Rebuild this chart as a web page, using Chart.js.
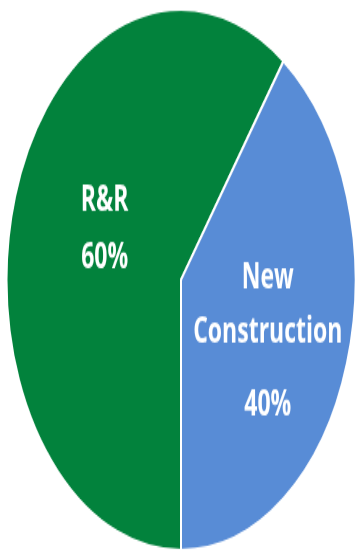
<!DOCTYPE html>
<html>
<head>
<meta charset="utf-8">
<script src="https://cdn.jsdelivr.net/npm/chart.js@4"></script>
<style>
  html { overflow: hidden; }
  body { margin: 0; padding: 0; background: #fff; width: 358px; height: 555px; }
  /* the reference pie is squashed into an ellipse, text too */
  #wrap { width: 358px; height: 358px; transform: scaleY(1.5503); transform-origin: 0 0; }
</style>
</head>
<body>
<div id="wrap"><canvas id="pieChart" width="358" height="358"></canvas></div>
<script>
// data
const categories = ["R&R", "New Construction"];
const shares = [60, 40];
const labelLines = [["R&R"], ["New", "Construction"]];

// label placement (fraction of radius along mid angle, baseline offsets per line)
const labelRadius = [0.46, 0.523];
const lineOffsets = [[-20, 17], [-22.5, 12.3, 59.4]];

/**
 * draws the white labels inside each slice
 */
const sliceLabels = {
    id: 'sliceLabels',
    afterDatasetsDraw(chart) {
        const ctx = chart.ctx;
        const meta = chart.getDatasetMeta(0);
        const total = shares.reduce((a, b) => a + b, 0);
        ctx.save();
        ctx.fillStyle = '#ffffff';
        ctx.font = 'bold 23px "Open Sans"';
        ctx.textAlign = 'center';
        ctx.textBaseline = 'alphabetic';
        meta.data.forEach(function (arc, i) {
            const p = arc.getProps(['x', 'y', 'startAngle', 'endAngle', 'outerRadius'], true);
            const mid = (p.startAngle + p.endAngle) / 2;
            const r = p.outerRadius * labelRadius[i];
            const ax = p.x + Math.cos(mid) * r;
            const ay = p.y + Math.sin(mid) * r;
            const lines = labelLines[i].concat([Math.round(shares[i] / total * 100) + '%']);
            lines.forEach(function (txt, j) {
                ctx.fillText(txt, ax, ay + lineOffsets[i][j]);
            });
        });
        ctx.restore();
    }
};

var ctxP = document.getElementById("pieChart").getContext('2d');
var myPieChart = new Chart(ctxP, {
    type: 'pie',
    data: {
        labels: categories,
        datasets: [{
            data: shares,
            backgroundColor: ["#02823c", "#588cd6"],
            borderColor: '#ffffff',
            borderWidth: 2
        }]
    },
    options: {
        responsive: false,
        animation: false,
        rotation: 180,
        layout: { padding: { left: 5, right: 1, top: 5, bottom: 2 } },
        plugins: {
            legend: { display: false },
            tooltip: { enabled: false }
        }
    },
    plugins: [sliceLabels]
});
</script>
</body>
</html>
